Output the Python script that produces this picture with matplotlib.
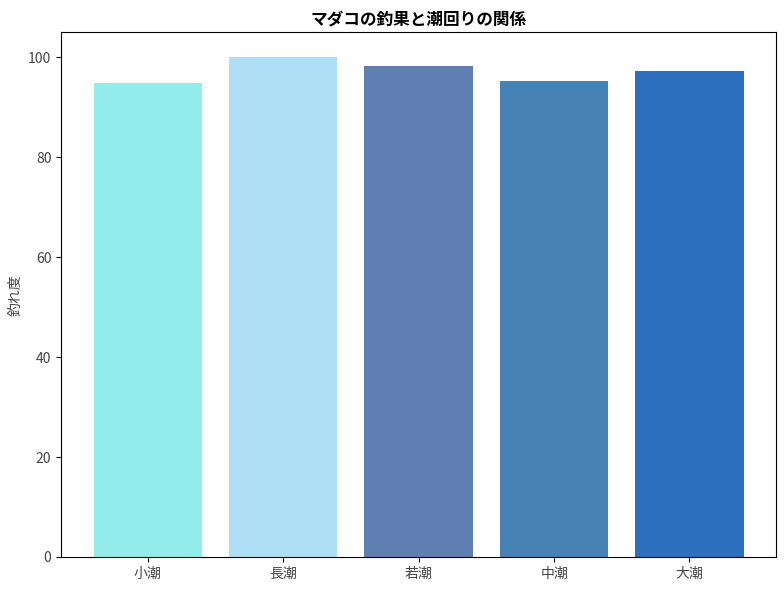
import matplotlib
matplotlib.use("Agg")
import matplotlib.pyplot as plt

plt.rcParams['font.family'] = ['Noto Sans CJK JP', 'DejaVu Sans']

# 潮回りごとの釣れ度
shio = ['小潮', '長潮', '若潮', '中潮', '大潮']
tsure_do = [94.8, 100.0, 98.2, 95.2, 97.2]
iro = ['#93EDED', '#AEDFF7', '#5F7FB3', '#4682B4', '#2E70C0']

fig, ax = plt.subplots(figsize=(7.84, 5.9), dpi=100)
fig.subplots_adjust(left=0.078, right=0.99, top=0.945, bottom=0.056)
ax.bar(shio, tsure_do, color=iro, width=0.8)
ax.set_title('マダコの釣果と潮回りの関係', fontweight='bold')
ax.set_ylabel('釣れ度', color='#444444')
ax.tick_params(labelcolor='#444444')

plt.savefig('out.png', dpi=100)
